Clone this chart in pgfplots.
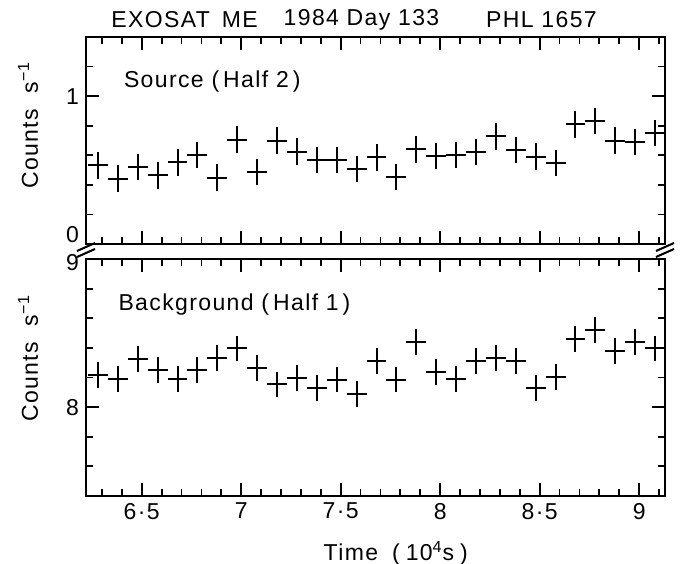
\documentclass[border=0pt]{standalone}
\usepackage{pgfplots}
\pgfplotsset{compat=1.18}
\usepackage{pgfplotstable}
\usepackage{fontspec}
\setmainfont{Liberation Sans}[LetterSpace=6]

\pgfplotstableread{
x y
6.28 0.533
6.38 0.441
6.48 0.522
6.58 0.464
6.68 0.552
6.78 0.602
6.88 0.448
6.98 0.706
7.08 0.487
7.18 0.699
7.28 0.625
7.38 0.568
7.48 0.568
7.58 0.506
7.68 0.586
7.78 0.453
7.88 0.641
7.98 0.595
8.08 0.602
8.18 0.621
8.28 0.729
8.38 0.637
8.48 0.591
8.58 0.549
8.68 0.809
8.78 0.832
8.88 0.699
8.98 0.690
9.08 0.752
}\srcdata

\pgfplotstableread{
x y
6.28 8.219
6.38 8.192
6.48 8.325
6.58 8.252
6.68 8.192
6.78 8.252
6.88 8.332
6.98 8.396
7.08 8.263
7.18 8.153
7.28 8.197
7.38 8.131
7.48 8.186
7.58 8.088
7.68 8.310
7.78 8.186
7.88 8.440
7.98 8.237
8.08 8.192
8.18 8.310
8.28 8.332
8.38 8.310
8.48 8.131
8.58 8.204
8.68 8.462
8.78 8.520
8.88 8.380
8.98 8.440
9.08 8.396
}\bkgdata

\newcommand{\lbl}{\fontsize{11.5}{14}\selectfont}

\pgfplotsset{
  panel/.style={
    scale only axis, width=289.5pt,
    xmin=6.22, xmax=9.13,
    xtick={6.5,7,7.5,8,8.5,9},
    minor xtick={6.3,6.4,6.6,6.7,6.8,6.9,7.1,7.2,7.3,7.4,7.6,7.7,7.8,7.9,8.1,8.2,8.3,8.4,8.6,8.7,8.8,8.9,9.1},
    tick align=inside, tick pos=both,
    major tick length=6.5pt, minor tick length=3.3pt,
    every tick/.style={black, line width=0.9pt},
    axis line style={line width=1.4pt},
    tick label style={font=\lbl},
    label style={font=\lbl},
    clip=false,
  },
}

\begin{document}
\begin{tikzpicture}
\useasboundingbox (-43pt,-33.5pt) rectangle (298.5pt,248pt);

\begin{axis}[panel, name=bot, at={(0,0)}, anchor=south west,
  height=118.5pt, ymin=7.4, ymax=9.0,
  ytick={8}, yticklabels={8},
  extra y ticks={9}, extra y tick labels={9},
  extra y tick style={yticklabel style={yshift=-2pt}},
  minor ytick={7.6,7.8,8.2,8.4,8.6,8.8},
  xticklabels={6·5,7,7·5,8,8·5,9},
  xlabel={Time\hspace{7pt}(\hspace{3pt}10\textsuperscript{4}s\hspace{3pt})},
  xlabel style={at={(rel axis cs:0.535,0)}, anchor=north, yshift=-19pt},
]
\addplot[mark=none, draw=none, forget plot,
  error bars/.cd, x dir=both, x fixed=0.05, y dir=both, y fixed=0.087,
  error mark=none, error bar style={draw=black, line width=1pt}] table {\bkgdata};
\node[anchor=west, font=\lbl] at (rel axis cs:0.044,0.806) {Background (\hspace{2pt}Half 1\hspace{2pt})};
\end{axis}

\begin{axis}[panel, name=top, at={(0,126pt)}, anchor=south west,
  height=103.5pt, ymin=0, ymax=1.4,
  ytick={1}, yticklabels={1},
  extra y ticks={0}, extra y tick labels={0},
  extra y tick style={yticklabel style={yshift=4.5pt}},
  minor ytick={0.2,0.4,0.6,0.8,1.2},
  xticklabel=\empty,
]
\addplot[mark=none, draw=none, forget plot,
  error bars/.cd, x dir=both, x fixed=0.05, y dir=both, y fixed=0.09,
  error mark=none, error bar style={draw=black, line width=1pt}] table {\srcdata};
\node[anchor=west, font=\lbl] at (rel axis cs:0.0535,0.787) {Source (\hspace{2pt}Half 2\hspace{2pt})};
\end{axis}

% y axis labels
\node[rotate=90, font=\lbl] at (-29pt,185.5pt) {Counts\ \ s\textsuperscript{−1}};
\node[rotate=90, font=\lbl] at (-29pt,69pt) {Counts\ \ s\textsuperscript{−1}};

% axis break marks
\foreach \xx in {0pt,289.5pt}{
  \draw[line width=1pt] ([xshift=\xx]-4.5pt,119.5pt) -- ([xshift=\xx]4.5pt,123.5pt);
  \draw[line width=1pt] ([xshift=\xx]-4.5pt,122.5pt) -- ([xshift=\xx]4.5pt,126.5pt);
}

% title
\node[font=\lbl] at (49.25pt,238pt) {EXOSAT\hspace{6pt}ME};
\node[font=\lbl] at (137.75pt,238pt) {1984 Day 133};
\node[font=\lbl] at (227.75pt,238pt) {PHL 1657};
\end{tikzpicture}
\end{document}
